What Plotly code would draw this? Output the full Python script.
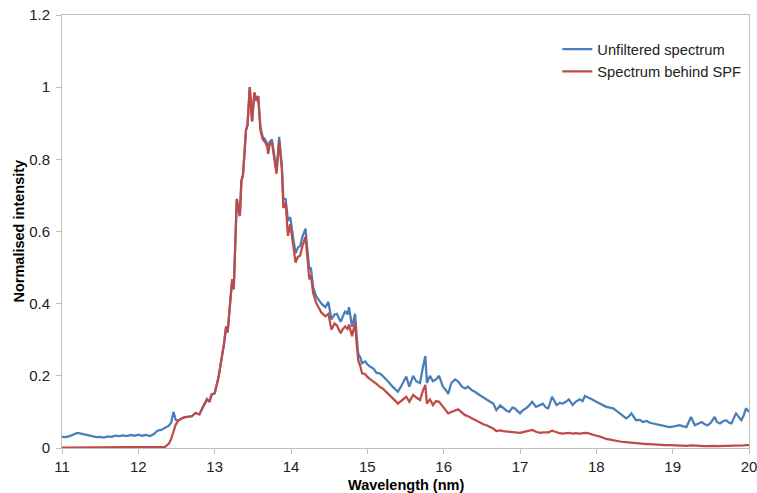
import plotly.graph_objects as go

wavelength = [
    11.00, 11.05, 11.10, 11.15, 11.20, 11.25, 11.30, 11.35, 11.40, 11.45,
    11.50, 11.55, 11.60, 11.65, 11.70, 11.75, 11.80, 11.85, 11.90, 11.95,
    12.00, 12.05, 12.10, 12.15, 12.20, 12.25, 12.30, 12.35, 12.40, 12.43,
    12.46, 12.49, 12.52, 12.55, 12.60, 12.65, 12.70, 12.75, 12.80, 12.85,
    12.90, 12.93, 12.96, 13.00, 13.05, 13.10, 13.12, 13.15, 13.17, 13.20,
    13.23, 13.25, 13.27, 13.29, 13.31, 13.33, 13.35, 13.37, 13.39, 13.41,
    13.43, 13.46, 13.49, 13.52, 13.55, 13.57, 13.60, 13.63, 13.66, 13.69,
    13.70, 13.72, 13.75, 13.78, 13.81, 13.845, 13.88, 13.90, 13.93, 13.96,
    13.99, 14.03, 14.06, 14.09, 14.12, 14.15, 14.19, 14.21, 14.24, 14.26,
    14.29, 14.33, 14.36, 14.40, 14.45, 14.49, 14.53, 14.57, 14.60, 14.65,
    14.68, 14.71, 14.74, 14.76, 14.80, 14.84, 14.86, 14.88, 14.91, 14.93,
    14.97, 15.00, 15.04, 15.08, 15.12, 15.16, 15.20, 15.25, 15.29, 15.33,
    15.37, 15.40, 15.44, 15.48, 15.51, 15.55, 15.60, 15.64, 15.69, 15.73,
    15.76, 15.78, 15.82, 15.86, 15.90, 15.94, 15.99, 16.03, 16.06, 16.10,
    16.15, 16.19, 16.24, 16.28, 16.32, 16.37, 16.41, 16.47, 16.52, 16.56,
    16.61, 16.65, 16.69, 16.74, 16.78, 16.82, 16.86, 16.90, 16.93, 16.97,
    17.00, 17.04, 17.08, 17.12, 17.16, 17.21, 17.26, 17.30, 17.34, 17.37,
    17.42, 17.48, 17.52, 17.56, 17.60, 17.64, 17.69, 17.73, 17.78, 17.82,
    17.85, 17.89, 17.93, 17.96, 18.00, 18.04, 18.09, 18.13, 18.18, 18.22,
    18.27, 18.31, 18.35, 18.39, 18.43, 18.46, 18.52, 18.57, 18.61, 18.66,
    18.70, 18.74, 18.80, 18.85, 18.90, 18.96, 19.02, 19.09, 19.14, 19.18,
    19.24, 19.29, 19.34, 19.38, 19.42, 19.46, 19.50, 19.55, 19.58, 19.62,
    19.66, 19.70, 19.74, 19.77, 19.80, 19.83, 19.87, 19.90, 19.93, 19.96,
    20.00,
]

unfiltered = [
    0.031, 0.030, 0.033, 0.038, 0.042, 0.040, 0.037, 0.036, 0.032, 0.030,
    0.031, 0.029, 0.032, 0.031, 0.034, 0.033, 0.035, 0.033, 0.036, 0.034,
    0.037, 0.034, 0.036, 0.033, 0.038, 0.048, 0.050, 0.055, 0.062, 0.070,
    0.100, 0.078, 0.076, 0.080, 0.085, 0.087, 0.088, 0.097, 0.093, 0.115,
    0.135, 0.128, 0.148, 0.152, 0.195, 0.260, 0.285, 0.337, 0.320, 0.395,
    0.468, 0.440, 0.590, 0.690, 0.665, 0.643, 0.740, 0.755, 0.815, 0.880,
    0.895, 1.000, 0.905, 0.985, 0.962, 0.975, 0.888, 0.862, 0.855, 0.842,
    0.825, 0.848, 0.855, 0.808, 0.768, 0.862, 0.782, 0.690, 0.690, 0.630,
    0.640, 0.580, 0.540, 0.555, 0.560, 0.585, 0.608, 0.560, 0.495, 0.500,
    0.445, 0.420, 0.410, 0.400, 0.390, 0.405, 0.356, 0.370, 0.372, 0.350,
    0.365, 0.380, 0.370, 0.390, 0.336, 0.372, 0.310, 0.262, 0.250, 0.235,
    0.240, 0.232, 0.225, 0.220, 0.208, 0.207, 0.200, 0.190, 0.180, 0.170,
    0.162, 0.156, 0.170, 0.185, 0.198, 0.170, 0.200, 0.185, 0.180, 0.226,
    0.255, 0.180, 0.200, 0.185, 0.190, 0.200, 0.170, 0.160, 0.150, 0.180,
    0.190, 0.184, 0.170, 0.165, 0.170, 0.160, 0.156, 0.147, 0.140, 0.133,
    0.128, 0.123, 0.105, 0.118, 0.110, 0.104, 0.100, 0.112, 0.110, 0.103,
    0.096, 0.105, 0.110, 0.118, 0.128, 0.114, 0.118, 0.123, 0.112, 0.110,
    0.142, 0.119, 0.125, 0.123, 0.128, 0.135, 0.119, 0.128, 0.135, 0.130,
    0.144, 0.140, 0.138, 0.133, 0.128, 0.123, 0.118, 0.114, 0.112, 0.110,
    0.102, 0.096, 0.090, 0.082, 0.088, 0.096, 0.077, 0.078, 0.072, 0.075,
    0.070, 0.068, 0.066, 0.063, 0.062, 0.058, 0.060, 0.063, 0.060, 0.058,
    0.086, 0.063, 0.068, 0.072, 0.066, 0.063, 0.070, 0.086, 0.072, 0.068,
    0.074, 0.077, 0.070, 0.068, 0.082, 0.096, 0.085, 0.077, 0.090, 0.110,
    0.100,
]

behind_spf = [
    0.001, 0.001, 0.001, 0.001, 0.001, 0.001, 0.001, 0.001, 0.001, 0.001,
    0.001, 0.001, 0.001, 0.001, 0.001, 0.001, 0.001, 0.001, 0.001, 0.001,
    0.002, 0.002, 0.002, 0.002, 0.002, 0.002, 0.002, 0.003, 0.012, 0.025,
    0.045, 0.065, 0.075, 0.080, 0.085, 0.087, 0.088, 0.097, 0.093, 0.115,
    0.135, 0.128, 0.148, 0.152, 0.195, 0.260, 0.285, 0.337, 0.320, 0.395,
    0.468, 0.440, 0.590, 0.690, 0.665, 0.643, 0.740, 0.755, 0.815, 0.880,
    0.895, 1.000, 0.905, 0.985, 0.962, 0.975, 0.880, 0.855, 0.848, 0.835,
    0.815, 0.840, 0.848, 0.800, 0.760, 0.850, 0.775, 0.665, 0.680, 0.588,
    0.620, 0.560, 0.514, 0.530, 0.533, 0.560, 0.585, 0.540, 0.467, 0.480,
    0.430, 0.402, 0.390, 0.375, 0.365, 0.372, 0.328, 0.345, 0.340, 0.318,
    0.330, 0.337, 0.330, 0.342, 0.310, 0.348, 0.290, 0.244, 0.225, 0.207,
    0.205, 0.197, 0.190, 0.185, 0.178, 0.170, 0.165, 0.155, 0.147, 0.140,
    0.130, 0.123, 0.130, 0.138, 0.142, 0.128, 0.147, 0.140, 0.133, 0.160,
    0.175, 0.123, 0.135, 0.119, 0.130, 0.128, 0.114, 0.105, 0.096, 0.100,
    0.104, 0.107, 0.098, 0.091, 0.088, 0.082, 0.077, 0.070, 0.066, 0.063,
    0.058, 0.054, 0.047, 0.049, 0.047, 0.046, 0.045, 0.046, 0.044, 0.043,
    0.042, 0.044, 0.046, 0.048, 0.050, 0.045, 0.042, 0.043, 0.044, 0.043,
    0.048, 0.043, 0.041, 0.040, 0.041, 0.042, 0.040, 0.041, 0.040, 0.042,
    0.042, 0.041, 0.038, 0.036, 0.034, 0.032, 0.028, 0.025, 0.023, 0.021,
    0.019, 0.018, 0.017, 0.016, 0.015, 0.015, 0.014, 0.013, 0.012, 0.011,
    0.011, 0.010, 0.009, 0.009, 0.008, 0.008, 0.007, 0.007, 0.007, 0.006,
    0.007, 0.006, 0.006, 0.006, 0.005, 0.005, 0.006, 0.006, 0.005, 0.005,
    0.005, 0.005, 0.005, 0.005, 0.006, 0.006, 0.006, 0.006, 0.007, 0.008,
    0.008,
]

series_names = ["Unfiltered spectrum", "Spectrum behind SPF"]
x_ticks = [11, 12, 13, 14, 15, 16, 17, 18, 19, 20]
y_ticks = [0, 0.2, 0.4, 0.6, 0.8, 1, 1.2]
x_title = "Wavelength (nm)"
y_title = "Normalised intensity"

FONT = "Liberation Sans, Arial, sans-serif"

fig = go.Figure()
fig.add_trace(go.Scatter(x=wavelength, y=unfiltered, mode="lines", name=series_names[0],
                         line=dict(color="#4A7EBB", width=2.25)))
fig.add_trace(go.Scatter(x=wavelength, y=behind_spf, mode="lines", name=series_names[1],
                         line=dict(color="#BE4B48", width=2.25)))

axis_common = dict(showline=True, linecolor="#BFBFBF", linewidth=1, mirror=True,
                   showgrid=False, zeroline=False, ticks="outside", ticklen=5,
                   tickcolor="#BFBFBF", automargin=False, ticklabeloverflow="allow",
                   tickfont=dict(family=FONT, size=15, color="#222222"))

fig.update_layout(
    width=757, height=493, autosize=False,
    margin=dict(l=62, r=8, t=15, b=45),
    paper_bgcolor="white", plot_bgcolor="white",
    font=dict(family=FONT),
    xaxis=dict(range=[11, 20], tickvals=x_ticks, **axis_common),
    yaxis=dict(range=[0, 1.2], tickvals=y_ticks, ticklabelstandoff=3, **axis_common),
    legend=dict(x=0.721, y=0.958, xanchor="left", yanchor="top",
                font=dict(family=FONT, size=14.7, color="#222222"),
                bgcolor="rgba(0,0,0,0)", itemwidth=30, tracegroupgap=0),
    showlegend=True,
    annotations=[
        dict(text="<b>" + x_title + "</b>", xref="paper", yref="paper",
             x=0.5, y=0, yshift=-37, xanchor="center", yanchor="middle",
             showarrow=False, font=dict(family=FONT, size=14.5, color="#000000")),
        dict(text="<b>" + y_title + "</b>", xref="paper", yref="paper",
             x=0, y=0.5, xshift=-44, xanchor="center", yanchor="middle", textangle=-90,
             showarrow=False, font=dict(family=FONT, size=14.5, color="#000000")),
    ],
)

fig.write_html(
    "out.html",
    config={"displayModeBar": False},
    post_script="document.body.style.margin='0';document.body.style.overflow='hidden';",
)
